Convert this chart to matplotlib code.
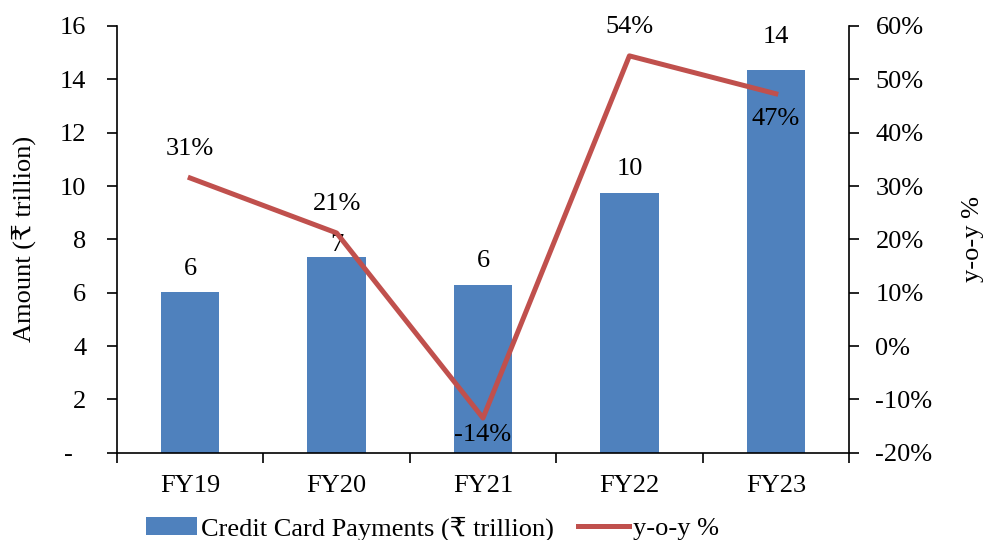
import matplotlib
matplotlib.use("Agg")
import matplotlib.pyplot as plt
from matplotlib.ticker import FixedLocator, FuncFormatter

BAR, LINE = "#4f81bd", "#c0504d"
plt.rcParams["font.family"] = ["Liberation Serif", "DejaVu Serif"]
FS = 19

years = ["FY19", "FY20", "FY21", "FY22", "FY23"]
amount = [6.04, 7.32, 6.30, 9.75, 14.34]        # ₹ trillion
amount_labels = ["6", "7", "6", "10", "14"]
yoy = [31.5, 21.2, -13.5, 54.4, 47.3]           # %
yoy_labels = ["31%", "21%", "-14%", "54%", "47%"]

# label offsets in points (bar labels above; line labels +above / -below)
bar_off = [8.5, 1, 9, 9, 16]
yoy_off = [13, 13, -4, 13, -10]

fig = plt.figure(figsize=(9.87, 5.4), dpi=100)
ax = fig.add_axes([117 / 987, 87.3 / 540, 732 / 987, 426.7 / 540])
x = list(range(len(years)))

bars = ax.bar(x, amount, width=0.4, color=BAR, label="Credit Card Payments (₹ trillion)", zorder=2)
for xi, v, s, o in zip(x, amount, amount_labels, bar_off):
    ax.annotate(s, (xi, v), xytext=(0, o), textcoords="offset points",
                ha="center", va="bottom", fontsize=FS)

ax.set_xlim(-0.5, 4.5)
ax.set_ylim(0, 16)
ax.set_yticks(range(0, 17, 2))
ax.yaxis.set_major_formatter(FuncFormatter(lambda v, p: "-  " if v == 0 else f"{v:.0f}"))
ax.set_xticks(x, years)
ax.xaxis.set_minor_locator(FixedLocator([i + 0.5 for i in range(-1, 5)]))
ax.tick_params(axis="x", which="major", length=0, pad=16, labelsize=FS)
ax.tick_params(axis="x", which="minor", length=7, width=1.2, direction="out")
ax.tick_params(axis="y", length=7, width=1.2, direction="out", labelsize=FS, pad=15)
ax.set_ylabel("Amount (₹ trillion)", fontsize=FS, labelpad=17)
ax.spines["top"].set_visible(False)
ax.spines["right"].set_visible(False)
for s in ("left", "bottom"):
    ax.spines[s].set_linewidth(1.2)

ax2 = ax.twinx()
line, = ax2.plot(x, yoy, color=LINE, lw=3.6, label="y-o-y %", zorder=3)
for xi, v, s, d in zip(x, yoy, yoy_labels, yoy_off):
    ax2.annotate(s, (xi, v), xytext=(0, d), textcoords="offset points",
                 ha="center", va="bottom" if d > 0 else "top", fontsize=FS)
ax2.set_ylim(-20, 60)
ax2.set_yticks(range(-20, 61, 10))
ax2.yaxis.set_major_formatter(FuncFormatter(lambda v, p: f"{v:.0f}%"))
ax2.tick_params(axis="y", length=7, width=1.2, direction="out", labelsize=FS, pad=12)
ax2.set_ylabel("y-o-y %", fontsize=FS, labelpad=21)
ax2.spines["top"].set_visible(False)
ax2.spines["left"].set_visible(False)
ax2.spines["bottom"].set_visible(False)
ax2.spines["right"].set_linewidth(1.2)

fig.legend([bars, line], [bars.get_label(), line.get_label()], loc="lower center",
           bbox_to_anchor=(0.438, -0.045), ncol=2, frameon=False, fontsize=FS,
           handlelength=1.95, handleheight=0.7, handletextpad=0.15, columnspacing=0.9)

fig.savefig("out.png", dpi=100)
